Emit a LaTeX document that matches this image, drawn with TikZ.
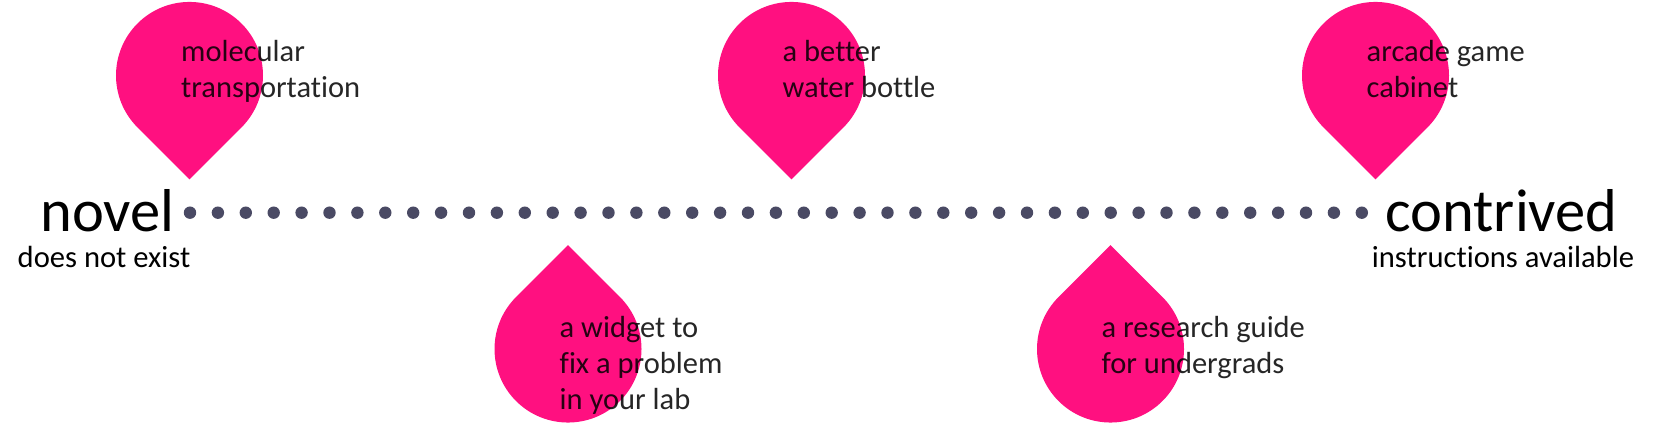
\documentclass[tikz,border=0pt]{standalone}
\usepackage{fontspec}
\setmainfont{Carlito}[Ligatures=NoCommon]
\definecolor{pinpink}{RGB}{255,16,128}
\definecolor{dotgray}{RGB}{74,74,100}
\begin{document}
\begin{tikzpicture}[x=1pt,y=1pt,
  pinlabel/.style={anchor=base west, inner sep=0pt, align=left, font=\fontsize{30.5}{36}\selectfont, text opacity=0.85},
  endword/.style={anchor=base, inner sep=0pt, font=\fontsize{60.5}{72}\selectfont},
  endnote/.style={anchor=base, inner sep=0pt, font=\fontsize{30.6}{36}\selectfont},
  dotmark/.style={fill=dotgray},
  droppin/.style={fill=pinpink}]
\useasboundingbox (0,0) rectangle (1654,435);
% pins pointing down (above the line)
\fill[droppin] (189.5,255.6) -- ++(51.97,51.97) arc[start angle=-45, end angle=225, radius=73.5] -- cycle;
\fill[droppin] (791.5,255.6) -- ++(51.97,51.97) arc[start angle=-45, end angle=225, radius=73.5] -- cycle;
\fill[droppin] (1375.5,255.6) -- ++(51.97,51.97) arc[start angle=-45, end angle=225, radius=73.5] -- cycle;
% pins pointing up (below the line)
\fill[droppin] (568,189.9) -- ++(-51.97,-51.97) arc[start angle=135, end angle=405, radius=73.5] -- cycle;
\fill[droppin] (1110.5,189.9) -- ++(-51.97,-51.97) arc[start angle=135, end angle=405, radius=73.5] -- cycle;
% dotted line
\foreach \i in {0,...,42}{
  \fill[dotmark] (190+27.9*\i,222.3) circle[radius=6.2];
}
% end labels
\node[endword] (novel) at (107.5,203) {novel};
\node[endnote] (novelnote) at (104,167) {does not exist};
\node[endword] (contrived) at (1501.5,203) {contrived};
\node[endnote] (contrivednote) at (1503,167) {instructions available};
% pin labels (base = baseline of last line)
\node[pinlabel] (molec) at (181,337) {molecular\\transportation};
\node[pinlabel] (bottle) at (782.5,337) {a better\\water bottle};
\node[pinlabel] (arcade) at (1366.5,337) {arcade game\\cabinet};
\node[pinlabel] (widget) at (559.5,25) {a widget to\\fix a problem\\in your lab};
\node[pinlabel] (guide) at (1101.5,61) {a research guide\\for undergrads};
\end{tikzpicture}
\end{document}
